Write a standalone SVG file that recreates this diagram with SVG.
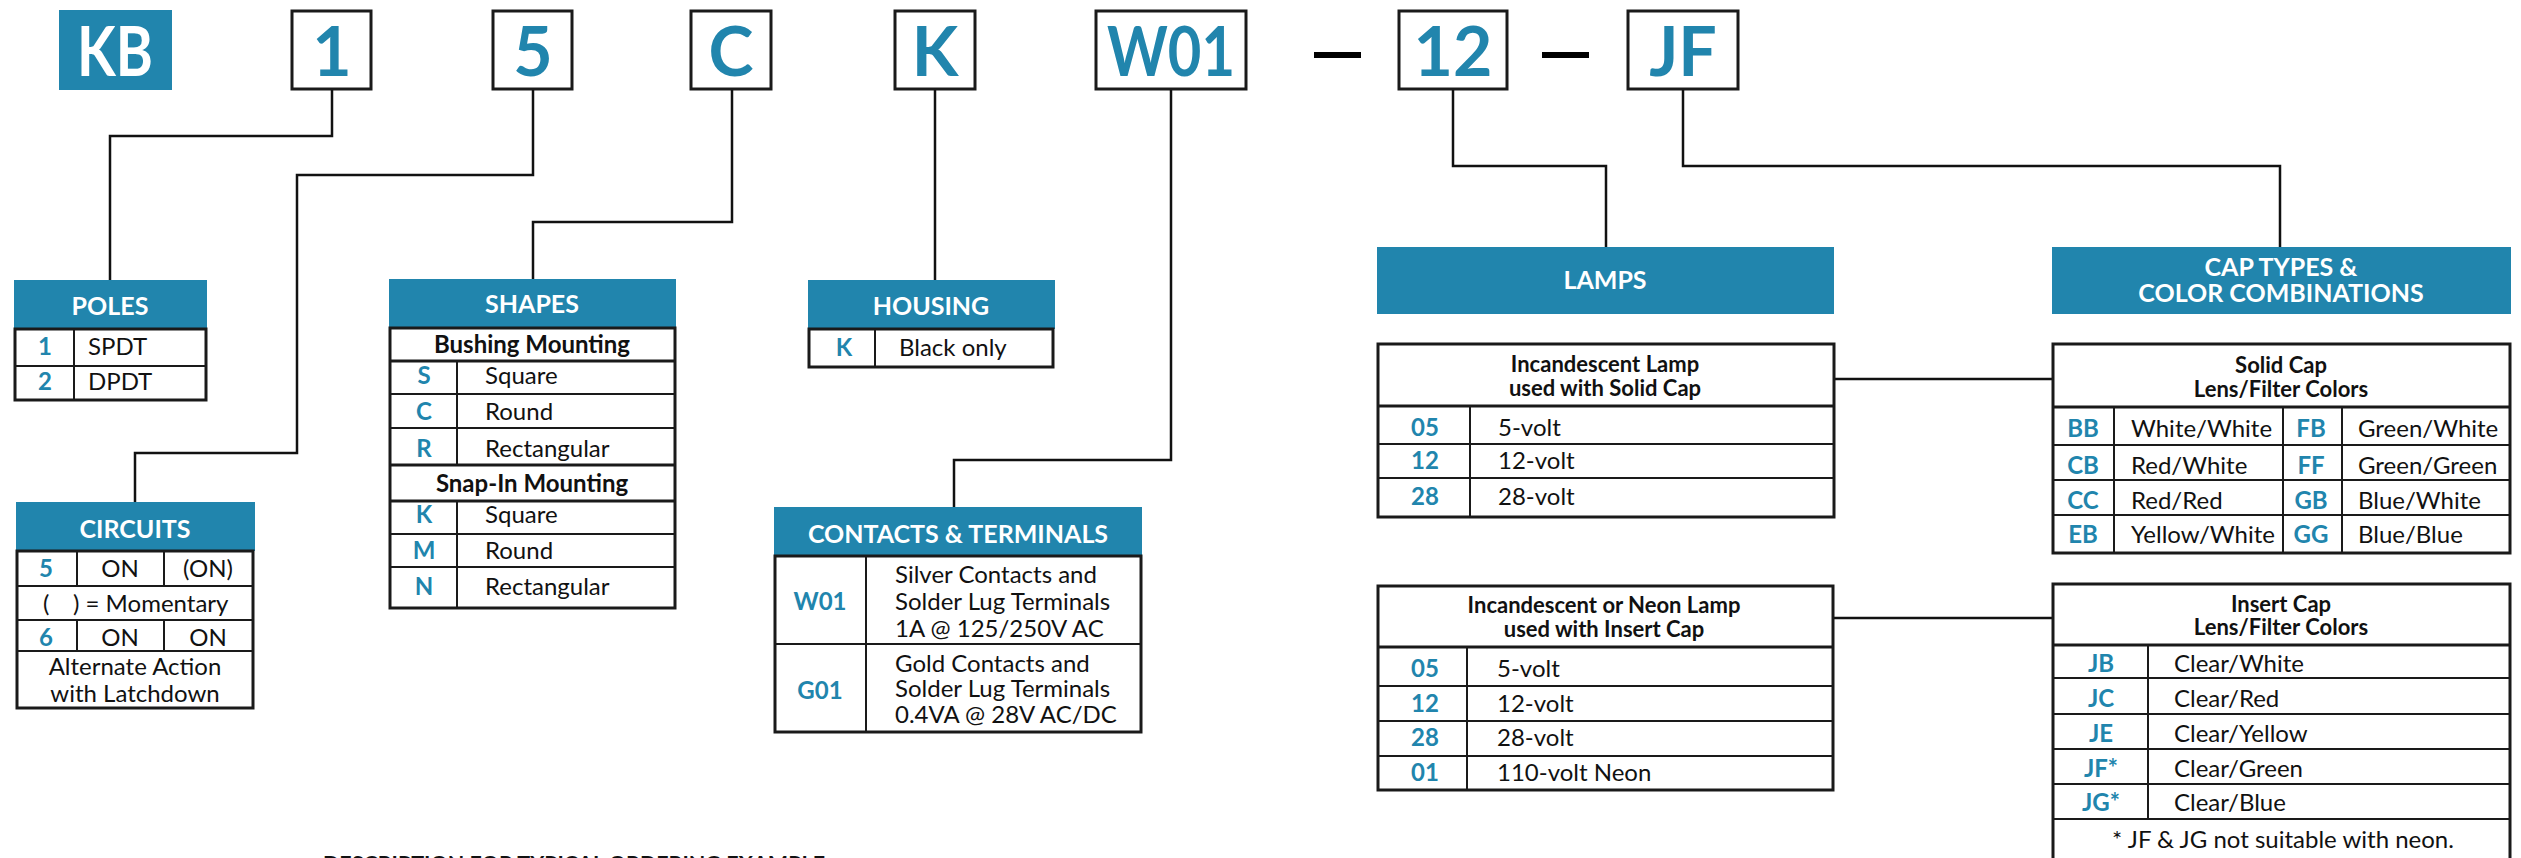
<svg xmlns="http://www.w3.org/2000/svg" width="2521" height="858" viewBox="0 0 2521 858">
<style>
.hdr{fill:#2185ad}
.ht{font-family:Lato,"Liberation Sans",sans-serif;font-weight:bold;font-size:25px;fill:#fff;text-anchor:middle}
.big{font-family:Lato,"Liberation Sans",sans-serif;font-weight:bold;font-size:68px;fill:#2185ad;text-anchor:middle}
.code{font-family:Lato,"Liberation Sans",sans-serif;font-weight:bold;font-size:24px;fill:#2185ad;text-anchor:middle}
.txt{font-family:Lato,"Liberation Sans",sans-serif;font-size:24px;fill:#111}
.ctr{text-anchor:middle}
.ttl{font-family:Lato,"Liberation Sans",sans-serif;font-weight:bold;font-size:22px;fill:#111;text-anchor:middle}
.sub{font-family:Lato,"Liberation Sans",sans-serif;font-weight:bold;font-size:24px;fill:#111;text-anchor:middle}
.box{fill:#fff;stroke:#1a1a1a;stroke-width:3}
.ln{stroke:#1a1a1a;stroke-width:2;fill:none}
.lnb{stroke:#1a1a1a;stroke-width:3;fill:none}
.con{fill:none;stroke:#111;stroke-width:2.5}
</style>

<g id="code-kb">
<rect x="59" y="10" width="113" height="80" class="hdr"/>
<text x="115" y="76" class="big" style="fill:#fff" textLength="76" lengthAdjust="spacingAndGlyphs">KB</text>
</g>
<g id="code-1">
<rect x="292" y="11" width="79" height="78" class="box"/>
<text x="332" y="76" class="big">1</text>
</g>
<g id="code-5">
<rect x="493" y="11" width="79" height="78" class="box"/>
<text x="533" y="76" class="big">5</text>
</g>
<g id="code-c">
<rect x="691" y="11" width="80" height="78" class="box"/>
<text x="731" y="76" class="big">C</text>
</g>
<g id="code-k">
<rect x="895" y="11" width="80" height="78" class="box"/>
<text x="935" y="76" class="big">K</text>
</g>
<g id="code-w01">
<rect x="1096" y="11" width="150" height="78" class="box"/>
<text x="1171" y="76" class="big" textLength="128" lengthAdjust="spacingAndGlyphs">W01</text>
</g>
<g id="dash-1"><rect x="1314" y="52" width="47" height="6" fill="#000"/></g>
<g id="code-12">
<rect x="1399" y="11" width="108" height="78" class="box"/>
<text x="1453" y="76" class="big">12</text>
</g>
<g id="dash-2"><rect x="1542" y="52" width="47" height="6" fill="#000"/></g>
<g id="code-jf">
<rect x="1628" y="11" width="110" height="78" class="box"/>
<text x="1683" y="76" class="big">JF</text>
</g>

<g id="connectors">
<polyline class="con" points="332,90 332,136 110,136 110,280"/>
<polyline class="con" points="533,90 533,175 297,175 297,453 135,453 135,502"/>
<polyline class="con" points="732,90 732,222 533,222 533,279"/>
<polyline class="con" points="935,90 935,280"/>
<polyline class="con" points="1171,90 1171,460 954,460 954,507"/>
<polyline class="con" points="1453,90 1453,166 1606,166 1606,247"/>
<polyline class="con" points="1683,90 1683,166 2280,166 2280,247"/>
<line class="con" x1="1834" y1="379" x2="2053" y2="379"/>
<line class="con" x1="1833" y1="618" x2="2053" y2="618"/>
</g>

<g id="poles">
<rect x="14" y="280" width="193" height="49" class="hdr"/>
<text x="110" y="315" class="ht">POLES</text>
<rect x="15" y="329" width="191" height="71" class="box"/>
<line class="ln" x1="15" y1="366" x2="206" y2="366"/>
<line class="ln" x1="74" y1="329" x2="74" y2="400"/>
<text x="45" y="355" class="code">1</text><text x="88" y="355" class="txt">SPDT</text>
<text x="45" y="390" class="code">2</text><text x="88" y="390" class="txt">DPDT</text>
</g>

<g id="circuits">
<rect x="16" y="502" width="239" height="49" class="hdr"/>
<text x="135" y="538" class="ht">CIRCUITS</text>
<rect x="17" y="551" width="236" height="157" class="box"/>
<line class="ln" x1="17" y1="586" x2="253" y2="586"/>
<line class="ln" x1="17" y1="620" x2="253" y2="620"/>
<line class="ln" x1="17" y1="651" x2="253" y2="651"/>
<line class="ln" x1="77" y1="551" x2="77" y2="586"/>
<line class="ln" x1="164" y1="551" x2="164" y2="586"/>
<line class="ln" x1="77" y1="620" x2="77" y2="651"/>
<line class="ln" x1="164" y1="620" x2="164" y2="651"/>
<text x="46" y="577" class="code">5</text>
<text x="120" y="577" class="txt ctr">ON</text>
<text x="208" y="577" class="txt ctr">(ON)</text>
<text y="612" class="txt"><tspan x="43">(</tspan><tspan x="73">) = Momentary</tspan></text>
<text x="46" y="646" class="code">6</text>
<text x="120" y="646" class="txt ctr">ON</text>
<text x="208" y="646" class="txt ctr">ON</text>
<text x="135" y="675" class="txt ctr">Alternate Action</text>
<text x="135" y="702" class="txt ctr">with Latchdown</text>
</g>

<g id="shapes">
<rect x="389" y="279" width="287" height="49" class="hdr"/>
<text x="532" y="313" class="ht">SHAPES</text>
<rect x="390" y="328" width="285" height="280" class="box"/>
<line class="lnb" x1="390" y1="361" x2="675" y2="361"/>
<line class="ln" x1="390" y1="394" x2="675" y2="394"/>
<line class="ln" x1="390" y1="428" x2="675" y2="428"/>
<line class="lnb" x1="390" y1="465" x2="675" y2="465"/>
<line class="lnb" x1="390" y1="501" x2="675" y2="501"/>
<line class="ln" x1="390" y1="534" x2="675" y2="534"/>
<line class="ln" x1="390" y1="567" x2="675" y2="567"/>
<line class="ln" x1="457" y1="361" x2="457" y2="465"/>
<line class="ln" x1="457" y1="501" x2="457" y2="608"/>
<text x="532" y="353" class="sub">Bushing Mounting</text>
<text x="424" y="384" class="code">S</text><text x="485" y="384" class="txt">Square</text>
<text x="424" y="420" class="code">C</text><text x="485" y="420" class="txt">Round</text>
<text x="424" y="457" class="code">R</text><text x="485" y="457" class="txt">Rectangular</text>
<text x="532" y="492" class="sub">Snap-In Mounting</text>
<text x="424" y="523" class="code">K</text><text x="485" y="523" class="txt">Square</text>
<text x="424" y="559" class="code">M</text><text x="485" y="559" class="txt">Round</text>
<text x="424" y="595" class="code">N</text><text x="485" y="595" class="txt">Rectangular</text>
</g>

<g id="housing">
<rect x="808" y="280" width="247" height="49" class="hdr"/>
<text x="931" y="315" class="ht">HOUSING</text>
<rect x="809" y="329" width="244" height="38" class="box"/>
<line class="ln" x1="875" y1="329" x2="875" y2="367"/>
<text x="844" y="356" class="code">K</text><text x="899" y="356" class="txt">Black only</text>
</g>

<g id="contacts">
<rect x="774" y="507" width="368" height="49" class="hdr"/>
<text x="958" y="543" class="ht">CONTACTS &amp; TERMINALS</text>
<rect x="775" y="556" width="366" height="176" class="box"/>
<line class="ln" x1="775" y1="644" x2="1141" y2="644"/>
<line class="ln" x1="866" y1="556" x2="866" y2="732"/>
<text x="820" y="610" class="code">W01</text>
<text x="895" y="583" class="txt">Silver Contacts and</text>
<text x="895" y="610" class="txt">Solder Lug Terminals</text>
<text x="895" y="637" class="txt">1A @ 125/250V AC</text>
<text x="820" y="699" class="code">G01</text>
<text x="895" y="672" class="txt">Gold Contacts and</text>
<text x="895" y="697" class="txt">Solder Lug Terminals</text>
<text x="895" y="723" class="txt">0.4VA @ 28V AC/DC</text>
</g>

<g id="lamps">
<rect x="1377" y="247" width="457" height="67" class="hdr"/>
<text x="1605" y="289" class="ht">LAMPS</text>
</g>

<g id="lamps-solid">
<rect x="1378" y="344" width="456" height="173" class="box"/>
<line class="lnb" x1="1378" y1="406" x2="1834" y2="406"/>
<line class="ln" x1="1378" y1="444" x2="1834" y2="444"/>
<line class="ln" x1="1378" y1="478" x2="1834" y2="478"/>
<line class="ln" x1="1470" y1="406" x2="1470" y2="517"/>
<text x="1605" y="372" class="ttl">Incandescent Lamp</text>
<text x="1605" y="396" class="ttl">used with Solid Cap</text>
<text x="1425" y="436" class="code">05</text><text x="1498" y="436" class="txt">5-volt</text>
<text x="1425" y="469" class="code">12</text><text x="1498" y="469" class="txt">12-volt</text>
<text x="1425" y="505" class="code">28</text><text x="1498" y="505" class="txt">28-volt</text>
</g>

<g id="lamps-insert">
<rect x="1378" y="586" width="455" height="204" class="box"/>
<line class="lnb" x1="1378" y1="647" x2="1833" y2="647"/>
<line class="ln" x1="1378" y1="686" x2="1833" y2="686"/>
<line class="ln" x1="1378" y1="721" x2="1833" y2="721"/>
<line class="ln" x1="1378" y1="756" x2="1833" y2="756"/>
<line class="ln" x1="1467" y1="647" x2="1467" y2="790"/>
<text x="1604" y="613" class="ttl">Incandescent or Neon Lamp</text>
<text x="1604" y="637" class="ttl">used with Insert Cap</text>
<text x="1425" y="677" class="code">05</text><text x="1497" y="677" class="txt">5-volt</text>
<text x="1425" y="712" class="code">12</text><text x="1497" y="712" class="txt">12-volt</text>
<text x="1425" y="746" class="code">28</text><text x="1497" y="746" class="txt">28-volt</text>
<text x="1425" y="781" class="code">01</text><text x="1497" y="781" class="txt">110-volt Neon</text>
</g>

<g id="cap-types">
<rect x="2052" y="247" width="459" height="67" class="hdr"/>
<text x="2281" y="276" class="ht">CAP TYPES &amp;</text>
<text x="2281" y="302" class="ht">COLOR COMBINATIONS</text>
</g>

<g id="solid-cap">
<rect x="2053" y="344" width="457" height="209" class="box"/>
<line class="lnb" x1="2053" y1="407" x2="2510" y2="407"/>
<line class="ln" x1="2053" y1="445" x2="2510" y2="445"/>
<line class="ln" x1="2053" y1="480" x2="2510" y2="480"/>
<line class="ln" x1="2053" y1="515" x2="2510" y2="515"/>
<line class="ln" x1="2114" y1="407" x2="2114" y2="553"/>
<line class="ln" x1="2283" y1="407" x2="2283" y2="553"/>
<line class="ln" x1="2342" y1="407" x2="2342" y2="553"/>
<text x="2281" y="373" class="ttl">Solid Cap</text>
<text x="2281" y="397" class="ttl">Lens/Filter Colors</text>
<text x="2083" y="437" class="code">BB</text><text x="2131" y="437" class="txt">White/White</text>
<text x="2311" y="437" class="code">FB</text><text x="2358" y="437" class="txt">Green/White</text>
<text x="2083" y="474" class="code">CB</text><text x="2131" y="474" class="txt">Red/White</text>
<text x="2311" y="474" class="code">FF</text><text x="2358" y="474" class="txt">Green/Green</text>
<text x="2083" y="509" class="code">CC</text><text x="2131" y="509" class="txt">Red/Red</text>
<text x="2311" y="509" class="code">GB</text><text x="2358" y="509" class="txt">Blue/White</text>
<text x="2083" y="543" class="code">EB</text><text x="2131" y="543" class="txt">Yellow/White</text>
<text x="2311" y="543" class="code">GG</text><text x="2358" y="543" class="txt">Blue/Blue</text>
</g>

<g id="insert-cap">
<rect x="2053" y="584" width="457" height="280" class="box"/>
<line class="lnb" x1="2053" y1="645" x2="2510" y2="645"/>
<line class="ln" x1="2053" y1="678" x2="2510" y2="678"/>
<line class="ln" x1="2053" y1="714" x2="2510" y2="714"/>
<line class="ln" x1="2053" y1="749" x2="2510" y2="749"/>
<line class="ln" x1="2053" y1="784" x2="2510" y2="784"/>
<line class="ln" x1="2053" y1="819" x2="2510" y2="819"/>
<line class="ln" x1="2148" y1="645" x2="2148" y2="819"/>
<text x="2281" y="612" class="ttl">Insert Cap</text>
<text x="2281" y="635" class="ttl">Lens/Filter Colors</text>
<text x="2101" y="672" class="code">JB</text><text x="2174" y="672" class="txt">Clear/White</text>
<text x="2101" y="707" class="code">JC</text><text x="2174" y="707" class="txt">Clear/Red</text>
<text x="2101" y="742" class="code">JE</text><text x="2174" y="742" class="txt">Clear/Yellow</text>
<text x="2101" y="777" class="code">JF*</text><text x="2174" y="777" class="txt">Clear/Green</text>
<text x="2101" y="811" class="code">JG*</text><text x="2174" y="811" class="txt">Clear/Blue</text>
<text x="2283" y="848" class="txt ctr">* JF &amp; JG not suitable with neon.</text>
</g>

<g id="footer">
<text x="323" y="871" font-family="Lato, 'Liberation Sans', sans-serif" font-weight="bold" font-size="20" fill="#111" textLength="502" lengthAdjust="spacingAndGlyphs">DESCRIPTION FOR TYPICAL ORDERING EXAMPLE</text>
</g>
</svg>
